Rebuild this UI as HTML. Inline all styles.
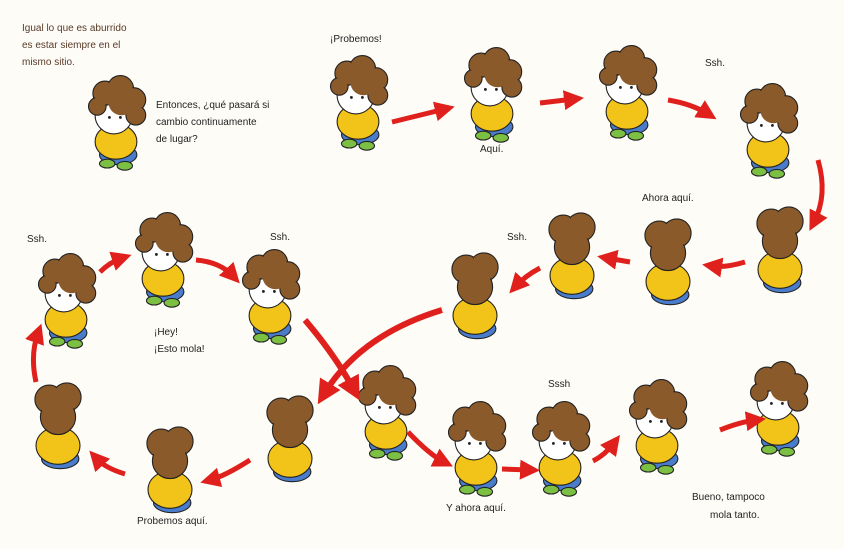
<!DOCTYPE html>
<html><head><meta charset="utf-8"><style>
body{margin:0;background:#fdfcf7;}
svg{display:block}
text{font-family:"Liberation Sans",sans-serif;font-size:10px;fill:#222;}
</style></head><body>
<svg width="844" height="549" viewBox="0 0 844 549" xmlns="http://www.w3.org/2000/svg">
<defs>
<g id="k"><g transform="translate(0,4) scale(1.1)">
 <ellipse cx="2" cy="48" rx="17" ry="9" fill="#4a7ccc" stroke="#222" stroke-width="1"/>
 <ellipse cx="0" cy="36" rx="19" ry="16" fill="#f2c318" stroke="#222" stroke-width="1"/>
 <ellipse cx="-8" cy="56" rx="7" ry="4" fill="#7bc043" stroke="#222" stroke-width="1"/>
 <ellipse cx="8" cy="58" rx="7" ry="4" fill="#7bc043" stroke="#222" stroke-width="1"/>
 <circle cx="-2" cy="12" r="17" fill="#fff" stroke="#222" stroke-width="1"/>
 <g fill="#8b5a2b" stroke="#222" stroke-width="1">
  <circle cx="-10" cy="-8" r="11"/><circle cx="4" cy="-12" r="12"/><circle cx="16" cy="-2" r="11"/>
  <circle cx="18" cy="12" r="9"/><circle cx="-17" cy="4" r="8"/>
 </g>
 <g fill="#8b5a2b">
  <circle cx="-10" cy="-8" r="10"/><circle cx="4" cy="-12" r="11"/><circle cx="16" cy="-2" r="10"/>
  <circle cx="18" cy="12" r="8"/><circle cx="-17" cy="4" r="7"/><circle cx="5" cy="0" r="12"/>
 </g>
 <circle cx="-6" cy="14" r="1.3" fill="#222"/><circle cx="4" cy="14" r="1.3" fill="#222"/>
</g></g>
<g id="kb"><g transform="translate(0,4) scale(1.1)">
 <ellipse cx="2" cy="48" rx="17" ry="9" fill="#4a7ccc" stroke="#222"/>
 <ellipse cx="0" cy="36" rx="20" ry="17" fill="#f2c318" stroke="#222"/>
 <g fill="#8b5a2b" stroke="#222"><circle cx="-8" cy="-6" r="13"/><circle cx="8" cy="-8" r="13"/><circle cx="0" cy="10" r="16"/></g>
 <g fill="#8b5a2b"><circle cx="-8" cy="-6" r="12"/><circle cx="8" cy="-8" r="12"/><circle cx="0" cy="10" r="15"/></g>
</g></g>
<marker id="ah" markerWidth="4" markerHeight="4" refX="2" refY="2" orient="auto" markerUnits="strokeWidth">
 <path d="M0,0 L4,2 L0,4 Z" fill="#e0201c"/>
</marker>
</defs>

<text x="22" y="31" style="fill:#5a3a28">Igual lo que es aburrido</text>
<text x="22" y="48" style="fill:#5a3a28">es estar siempre en el</text>
<text x="22" y="65" style="fill:#5a3a28">mismo sitio.</text>
<text x="156" y="108">Entonces, ¿qué pasará si</text>
<text x="156" y="125">cambio continuamente</text>
<text x="156" y="142">de lugar?</text>
<text x="330" y="42">¡Probemos!</text>
<text x="480" y="152">Aquí.</text>
<text x="705" y="66">Ssh.</text>
<text x="642" y="201">Ahora aquí.</text>
<text x="507" y="240">Ssh.</text>
<text x="27" y="242">Ssh.</text>
<text x="270" y="240">Ssh.</text>
<text x="154" y="335">¡Hey!</text>
<text x="154" y="352">¡Esto mola!</text>
<text x="137" y="524">Probemos aquí.</text>
<text x="446" y="511">Y ahora aquí.</text>
<text x="548" y="387">Sssh</text>
<text x="692" y="500">Bueno, tampoco</text>
<text x="710" y="518">mola tanto.</text>

<use href="#k" x="116" y="98"/>
<use href="#k" x="358" y="78"/>
<use href="#k" x="492" y="70"/>
<use href="#k" x="627" y="68"/>
<use href="#k" x="768" y="106"/>
<use href="#kb" x="780" y="226"/>
<use href="#kb" x="668" y="238"/>
<use href="#kb" x="572" y="232"/>
<use href="#kb" x="475" y="272"/>
<use href="#k" x="163" y="235"/>
<use href="#k" x="270" y="272"/>
<use href="#k" x="66" y="276"/>
<use href="#kb" x="58" y="402"/>
<use href="#kb" x="170" y="446"/>
<use href="#kb" x="290" y="415"/>
<use href="#k" x="386" y="388"/>
<use href="#k" x="476" y="424"/>
<use href="#k" x="560" y="424"/>
<use href="#k" x="657" y="402"/>
<use href="#k" x="778" y="384"/>

<g fill="none" stroke="#e0201c" stroke-width="5" marker-end="url(#ah)">
<path d="M392,122 L445,109"/>
<path d="M540,103 L574,99"/>
<path d="M668,100 Q692,104 708,114"/>
<path d="M818,160 Q828,195 814,222"/>
<path d="M745,262 Q725,268 712,266"/>
<path d="M630,262 L607,258"/>
<path d="M540,268 Q525,276 516,286"/>
<path d="M442,310 Q360,335 324,394" stroke-width="6"/>
<path d="M305,320 Q335,355 354,390" stroke-width="6"/>
<path d="M196,260 Q220,262 233,276"/>
<path d="M100,272 Q110,262 122,258"/>
<path d="M36,382 Q30,355 38,333"/>
<path d="M125,474 Q105,468 96,458"/>
<path d="M250,460 Q225,476 210,480"/>
<path d="M408,432 Q430,455 444,462"/>
<path d="M502,469 L530,470"/>
<path d="M593,461 Q605,455 614,443"/>
<path d="M720,430 Q740,422 756,420"/>
</g>
</svg>
</body></html>
